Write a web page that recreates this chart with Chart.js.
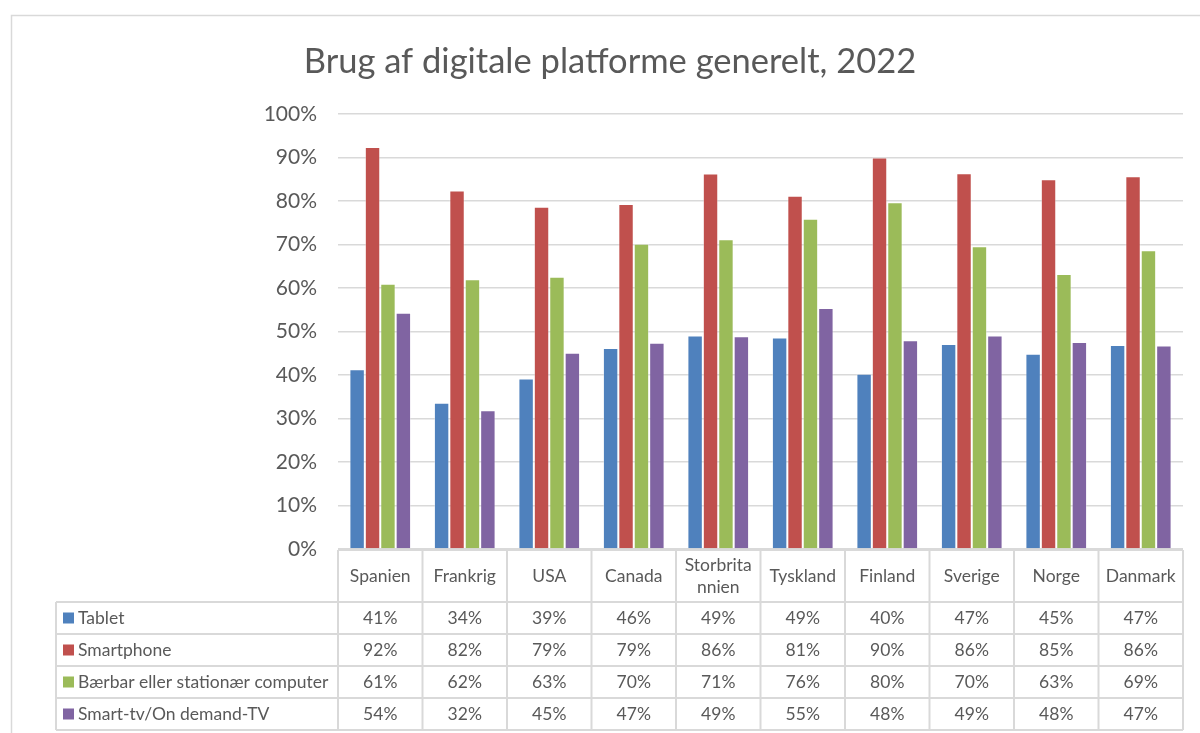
<!DOCTYPE html>
<html>
<head>
<meta charset="utf-8">
<script src="https://cdn.jsdelivr.net/npm/chart.js@4/dist/chart.umd.min.js"></script>
<style>
  html, body { margin: 0; padding: 0; background: #fff; }
  #wrap { width: 1200px; height: 733px; position: relative; }
</style>
</head>
<body>
<div id="wrap"><canvas id="c" width="1200" height="733"></canvas></div>
<script>
// ---- data ----
const chartTitle = 'Brug af digitale platforme generelt, 2022';
const categories = ['Spanien', 'Frankrig', 'USA', 'Canada', ['Storbrita', 'nnien'], 'Tyskland', 'Finland', 'Sverige', 'Norge', 'Danmark'];
const seriesNames = ['Tablet', 'Smartphone', 'Bærbar eller stationær computer', 'Smart-tv/On demand-TV'];
const tablet     = [41.3, 33.6, 39.2, 46.2, 49.1, 48.6, 40.3, 47.1, 44.9, 46.9];
const smartphone = [92.4, 82.4, 78.7, 79.3, 86.3, 81.2, 90.0, 86.4, 85.0, 85.7];
const computer   = [61.0, 62.0, 62.6, 70.2, 71.2, 75.9, 79.7, 69.6, 63.2, 68.7];
const smartTv    = [54.3, 31.9, 45.1, 47.4, 48.9, 55.4, 48.0, 49.1, 47.6, 46.8];
const yTicks = [0, 10, 20, 30, 40, 50, 60, 70, 80, 90, 100];
const colors = ['#4F81BD', '#C0504D', '#9BBB59', '#8064A2'];

const seriesValues = [tablet, smartphone, computer, smartTv];
const FONT = 'Lato, "Open Sans", sans-serif';
const TXT = '#595959';
const LINE = '#d9d9d9';

const framePlugin = {
  id: 'frameTitle',
  beforeDraw(chart) {
    const ctx = chart.ctx;
    ctx.save();
    ctx.fillStyle = '#fff';
    ctx.fillRect(0, 0, chart.width, chart.height);
    ctx.strokeStyle = LINE;
    ctx.lineWidth = 1.5;
    ctx.beginPath();
    ctx.moveTo(11.5, 733);
    ctx.lineTo(11.5, 15.5);
    ctx.lineTo(1200, 15.5);
    ctx.stroke();
    ctx.fillStyle = TXT;
    ctx.font = '34.5px ' + FONT;
    ctx.textAlign = 'center';
    ctx.textBaseline = 'alphabetic';
    ctx.fillText(chartTitle, 610, 73);
    ctx.restore();
  }
};

const tablePlugin = {
  id: 'dataTable',
  afterDraw(chart) {
    const ctx = chart.ctx;
    const a = chart.chartArea;
    const x = chart.scales.x;
    const n = categories.length;
    const colW = (a.right - a.left) / n;
    const top = a.bottom + 1;
    const headerBottom = top + 52;
    const rowH = 32;
    const tableLeft = 56;
    const bottom = headerBottom + rowH * seriesNames.length;
    ctx.save();
    ctx.strokeStyle = LINE;
    ctx.lineWidth = 2;
    ctx.beginPath();
    ctx.moveTo(a.left, top); ctx.lineTo(a.right, top);
    for (let r = 0; r <= seriesNames.length; r++) {
      const yy = headerBottom + r * rowH;
      ctx.moveTo(tableLeft, yy); ctx.lineTo(a.right, yy);
    }
    for (let i = 0; i <= n; i++) {
      const xx = a.left + i * colW;
      ctx.moveTo(xx, top); ctx.lineTo(xx, bottom);
    }
    ctx.moveTo(tableLeft, headerBottom); ctx.lineTo(tableLeft, bottom);
    ctx.stroke();

    ctx.fillStyle = TXT;
    ctx.font = '17.5px ' + FONT;
    ctx.textAlign = 'center';
    ctx.textBaseline = 'middle';
    categories.forEach((c, i) => {
      const cx = x.getPixelForValue(i);
      const cy = (top + headerBottom) / 2;
      if (Array.isArray(c)) {
        const lh = 22;
        c.forEach((ln, k) => ctx.fillText(ln, cx, cy + (k - (c.length - 1) / 2) * lh));
      } else {
        ctx.fillText(c, cx, cy);
      }
    });
    seriesNames.forEach((name, r) => {
      const cy = headerBottom + r * rowH + rowH / 2;
      ctx.fillStyle = colors[r];
      ctx.fillRect(63, cy - 5.5, 11, 11);
      ctx.fillStyle = TXT;
      ctx.textAlign = 'left';
      ctx.fillText(name, 78, cy);
      ctx.textAlign = 'center';
      seriesValues[r].forEach((v, i) => {
        ctx.fillText(Math.round(v) + '%', x.getPixelForValue(i), cy);
      });
    });
    ctx.restore();
  }
};

new Chart(document.getElementById('c'), {
  type: 'bar',
  data: {
    labels: categories,
    datasets: seriesNames.map((name, i) => ({
      label: name,
      data: seriesValues[i],
      backgroundColor: colors[i],
      borderColor: 'rgba(255,255,255,0.35)',
      borderWidth: 1,
      categoryPercentage: 0.73,
      barPercentage: 1.0
    }))
  },
  options: {
    responsive: false,
    animation: false,
    devicePixelRatio: 1,
    layout: { padding: { top: 114, left: 0, right: 17, bottom: 184 } },
    plugins: {
      legend: { display: false },
      title: { display: false },
      tooltip: { enabled: false }
    },
    scales: {
      x: { display: false },
      y: {
        min: 0, max: 100,
        afterFit(scale) { scale.width = 338; },
        afterBuildTicks(scale) { scale.ticks = yTicks.map(v => ({ value: v })); },
        ticks: {
          callback: v => v + '%',
          color: TXT,
          font: { family: FONT, size: 21 },
          padding: 21
        },
        grid: { color: LINE, lineWidth: 1.5, drawTicks: false },
        border: { display: false }
      }
    }
  },
  plugins: [framePlugin, tablePlugin]
});
</script>
</body>
</html>
